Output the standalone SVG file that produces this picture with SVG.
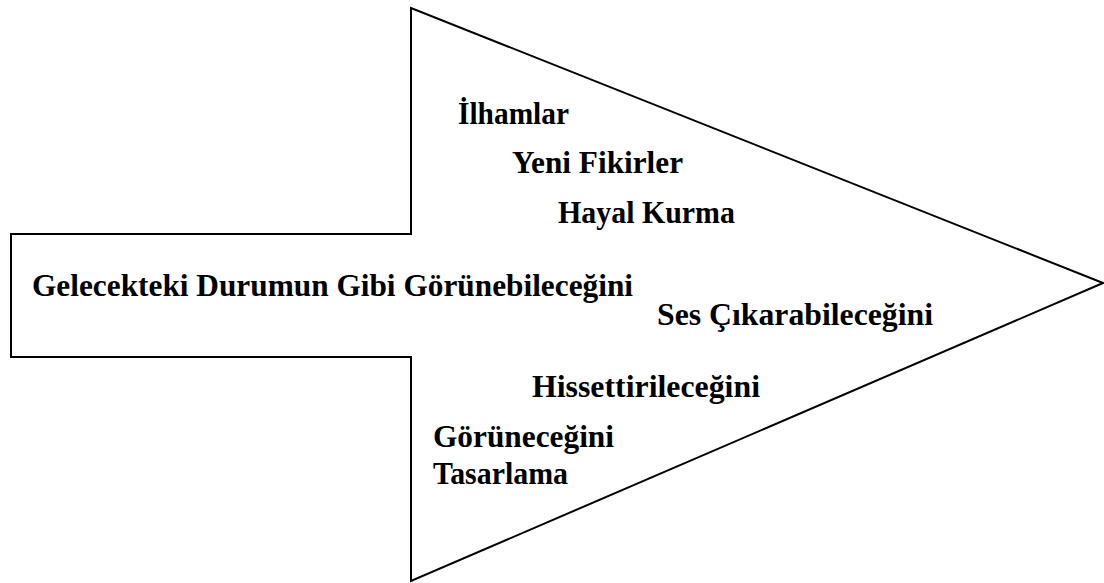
<svg xmlns="http://www.w3.org/2000/svg" width="1104" height="583" viewBox="0 0 1104 583">
<style>
.shape{fill:#fff;stroke:#000;stroke-width:2;stroke-linejoin:miter}
.t{font-family:"Liberation Serif","Times New Roman",serif;font-weight:bold;font-size:32px;fill:#000}
</style>
<rect width="1104" height="583" fill="#fff"/>
<g id="arrow">
<polygon class="shape" points="11,234 411,234 411,8 1103,283 411,581 411,357 11,357"/>
</g>
<g id="connectors"></g>
<g id="labels">
<text class="t" x="458" y="124" textLength="111" lengthAdjust="spacingAndGlyphs">İlhamlar</text>
<text class="t" x="512" y="173" textLength="171" lengthAdjust="spacingAndGlyphs">Yeni Fikirler</text>
<text class="t" x="558" y="223" textLength="177" lengthAdjust="spacingAndGlyphs">Hayal Kurma</text>
<text class="t" x="32" y="296" textLength="601" lengthAdjust="spacingAndGlyphs">Gelecekteki Durumun Gibi Görünebileceğini</text>
<text class="t" x="657" y="325" textLength="276" lengthAdjust="spacingAndGlyphs">Ses Çıkarabileceğini</text>
<text class="t" x="532" y="397" textLength="228" lengthAdjust="spacingAndGlyphs">Hissettirileceğini</text>
<text class="t" x="433" y="447" textLength="181" lengthAdjust="spacingAndGlyphs">Görüneceğini</text>
<text class="t" x="433" y="484" textLength="135" lengthAdjust="spacingAndGlyphs">Tasarlama</text>
</g>
</svg>
